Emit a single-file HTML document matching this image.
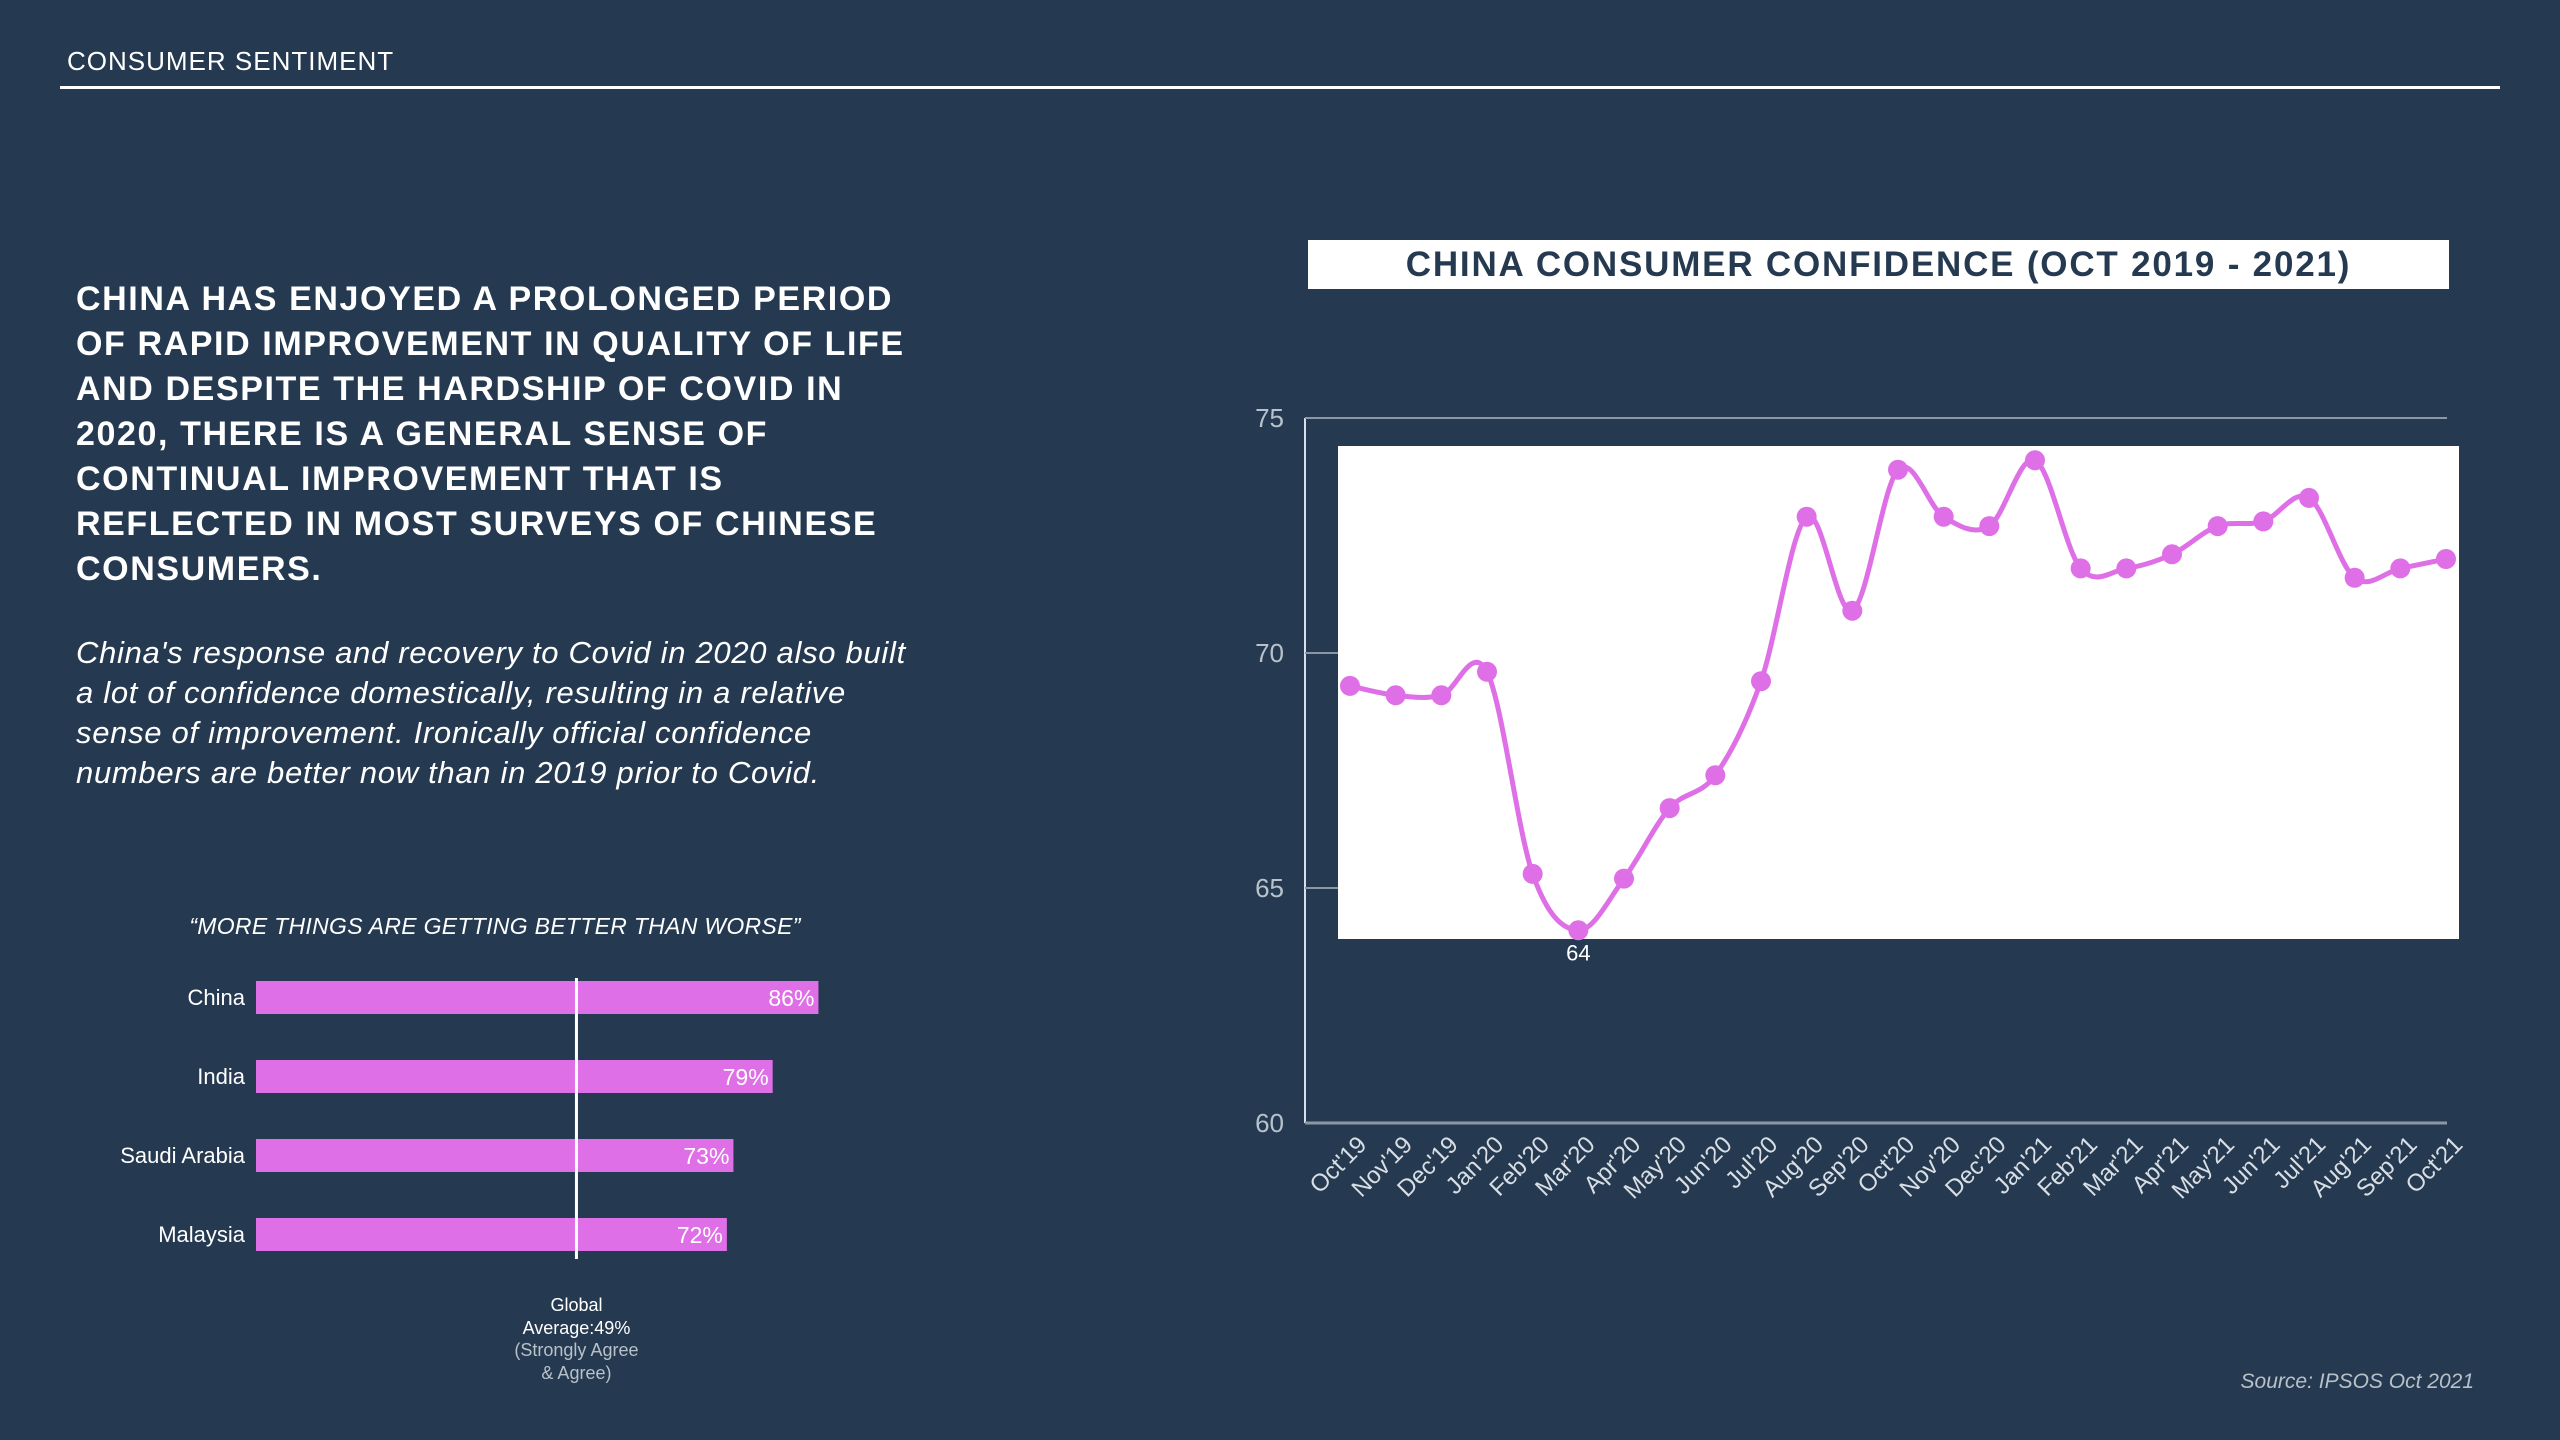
<!DOCTYPE html>
<html><head><meta charset="utf-8"><style>
body{margin:0;width:2560px;height:1440px;background:#253a51;overflow:hidden;font-family:"Liberation Sans",sans-serif;color:#fff;position:relative}
.abs{position:absolute;white-space:nowrap}
</style></head><body>
<div class="abs" style="left:67px;top:46px;font-size:26px;letter-spacing:1px">CONSUMER SENTIMENT</div>
<div class="abs" style="left:60px;top:86px;width:2440px;height:3px;background:#fff"></div>
<div class="abs" style="left:76px;top:277px;font-size:34px;line-height:45px;font-weight:bold;letter-spacing:1.6px">CHINA HAS ENJOYED A PROLONGED PERIOD<br>OF RAPID IMPROVEMENT IN QUALITY OF LIFE<br>AND DESPITE THE HARDSHIP OF COVID IN<br>2020, THERE IS A GENERAL SENSE OF<br>CONTINUAL IMPROVEMENT THAT IS<br>REFLECTED IN MOST SURVEYS OF CHINESE<br>CONSUMERS.</div>
<div class="abs" style="left:76px;top:633px;font-size:31px;line-height:40px;font-style:italic;letter-spacing:0.7px">China's response and recovery to Covid in 2020 also built<br>a lot of confidence domestically, resulting in a relative<br>sense of improvement. Ironically official confidence<br>numbers are better now than in 2019 prior to Covid.</div>
<div class="abs" style="right:86px;top:1370px;font-size:21px;font-style:italic;color:#b8c0c8">Source: IPSOS Oct 2021</div>

<svg id="bars" width="2560" height="1440" style="position:absolute;left:0;top:0"></svg>
<script>
const barCats=["China","India","Saudi Arabia","Malaysia"];
const barVals=[86,79,73,72];
const globalAvg=49;
(function(){
const svg=document.getElementById('bars'),NS="http://www.w3.org/2000/svg";
const x0=256,k=6.54,y0=981,pitch=79,h=33;
function mk(t,a){const e=document.createElementNS(NS,t);for(const q in a)e.setAttribute(q,a[q]);svg.appendChild(e);return e;}
let t=mk('text',{x:495,y:934,'text-anchor':'middle','font-size':23,'font-style':'italic',fill:'#fff','letter-spacing':0.3});t.textContent='“MORE THINGS ARE GETTING BETTER THAN WORSE”';


barCats.forEach((c,i)=>{
const y=y0+i*pitch,w=barVals[i]*k;
const r=mk('rect',{x:x0,y:y,width:w,height:h,fill:'#df6fe6'});


const l=mk('text',{x:245,y:y+24,'text-anchor':'end','font-size':22,fill:'#fff'});l.textContent=c;


const v=mk('text',{x:x0+w-4,y:y+25,'text-anchor':'end','font-size':23,fill:'#fff'});v.textContent=barVals[i]+'%';


});
const gx=x0+globalAvg*k;
const g=mk('line',{x1:gx,x2:gx,y1:978,y2:1259,stroke:'#fff','stroke-width':3});


[['Global','#fff',1311],['Average:49%','#fff',1334],['(Strongly Agree','#b8c0c8',1356],['& Agree)','#b8c0c8',1379]].forEach(a=>{
const e=mk('text',{x:gx,y:a[2],'text-anchor':'middle','font-size':18,fill:a[1]});e.textContent=a[0];


});
})();
</script>

<div class="abs" style="left:1308px;top:240px;width:1141px;height:49px;background:#fff;color:#253a51;font-size:35px;font-weight:bold;text-align:center;line-height:49px;letter-spacing:1.8px">CHINA CONSUMER CONFIDENCE (OCT 2019 - 2021)</div>
<svg id="line" width="2560" height="1440" style="position:absolute;left:0;top:0"></svg>
<script>
const months=["Oct'19","Nov'19","Dec'19","Jan'20","Feb'20","Mar'20","Apr'20","May'20","Jun'20","Jul'20","Aug'20","Sep'20","Oct'20","Nov'20","Dec'20","Jan'21","Feb'21","Mar'21","Apr'21","May'21","Jun'21","Jul'21","Aug'21","Sep'21","Oct'21"];
const confidence=[69.3,69.1,69.1,69.6,65.3,64.1,65.2,66.7,67.4,69.4,72.9,70.9,73.9,72.9,72.7,74.1,71.8,71.8,72.1,72.7,72.8,73.3,71.6,71.8,72.0];
const yTicks=[60,65,70,75];
(function(){
const svg=document.getElementById('line'),NS="http://www.w3.org/2000/svg";
function mk(t,a){const e=document.createElementNS(NS,t);for(const q in a)e.setAttribute(q,a[q]);svg.appendChild(e);return e;}
const X=i=>1350+i*(2446-1350)/(months.length-1);
const Y=v=>1123-(v-60)*(1123-418)/15;
let e=mk('line',{x1:1305,x2:2447,y1:Y(75),y2:Y(75),stroke:'#8a98a4','stroke-width':2});


e=mk('rect',{x:1338,y:446,width:1121,height:493,fill:'#fff'});


e=mk('line',{x1:1305,x2:1305,y1:418,y2:1123,stroke:'#dde',"stroke-width":2});


e=mk('line',{x1:1305,x2:2447,y1:1123,y2:1123,stroke:'#8a98a4','stroke-width':3});


yTicks.forEach(v=>{
const tk=mk('line',{x1:1305,x2:1338,y1:Y(v),y2:Y(v),stroke:'#8a98a4','stroke-width':2});


const t=mk('text',{x:1284,y:Y(v)+9,'text-anchor':'end','font-size':26,fill:'#b8c2cc'});t.textContent=v;


});
const P=confidence.map((v,i)=>[X(i),Y(v)]);
let d='M'+P[0][0]+','+P[0][1];
for(let i=0;i<P.length-1;i++){
const p0=P[Math.max(0,i-1)],p1=P[i],p2=P[i+1],p3=P[Math.min(P.length-1,i+2)];
d+=' C'+(p1[0]+(p2[0]-p0[0])/6)+','+(p1[1]+(p2[1]-p0[1])/6)+' '+(p2[0]-(p3[0]-p1[0])/6)+','+(p2[1]-(p3[1]-p1[1])/6)+' '+p2[0]+','+p2[1];}
e=mk('path',{d:d,fill:'none',stroke:'#df6fe6','stroke-width':5});


P.forEach((p,i)=>{
const c=mk('circle',{cx:p[0],cy:p[1],r:10,fill:'#df6fe6'});


const t=mk('text',{x:0,y:0,'text-anchor':'end','font-size':24,fill:'#d8dee4',transform:'translate('+(p[0]+18)+',1146) rotate(-45)'});t.textContent=months[i];


});
const mi=confidence.indexOf(Math.min(...confidence));
e=mk('text',{x:X(mi),y:Y(confidence[mi])+30,'text-anchor':'middle','font-size':22,fill:'#fff'});e.textContent=Math.floor(confidence[mi]);


})();
</script>
</body></html>
